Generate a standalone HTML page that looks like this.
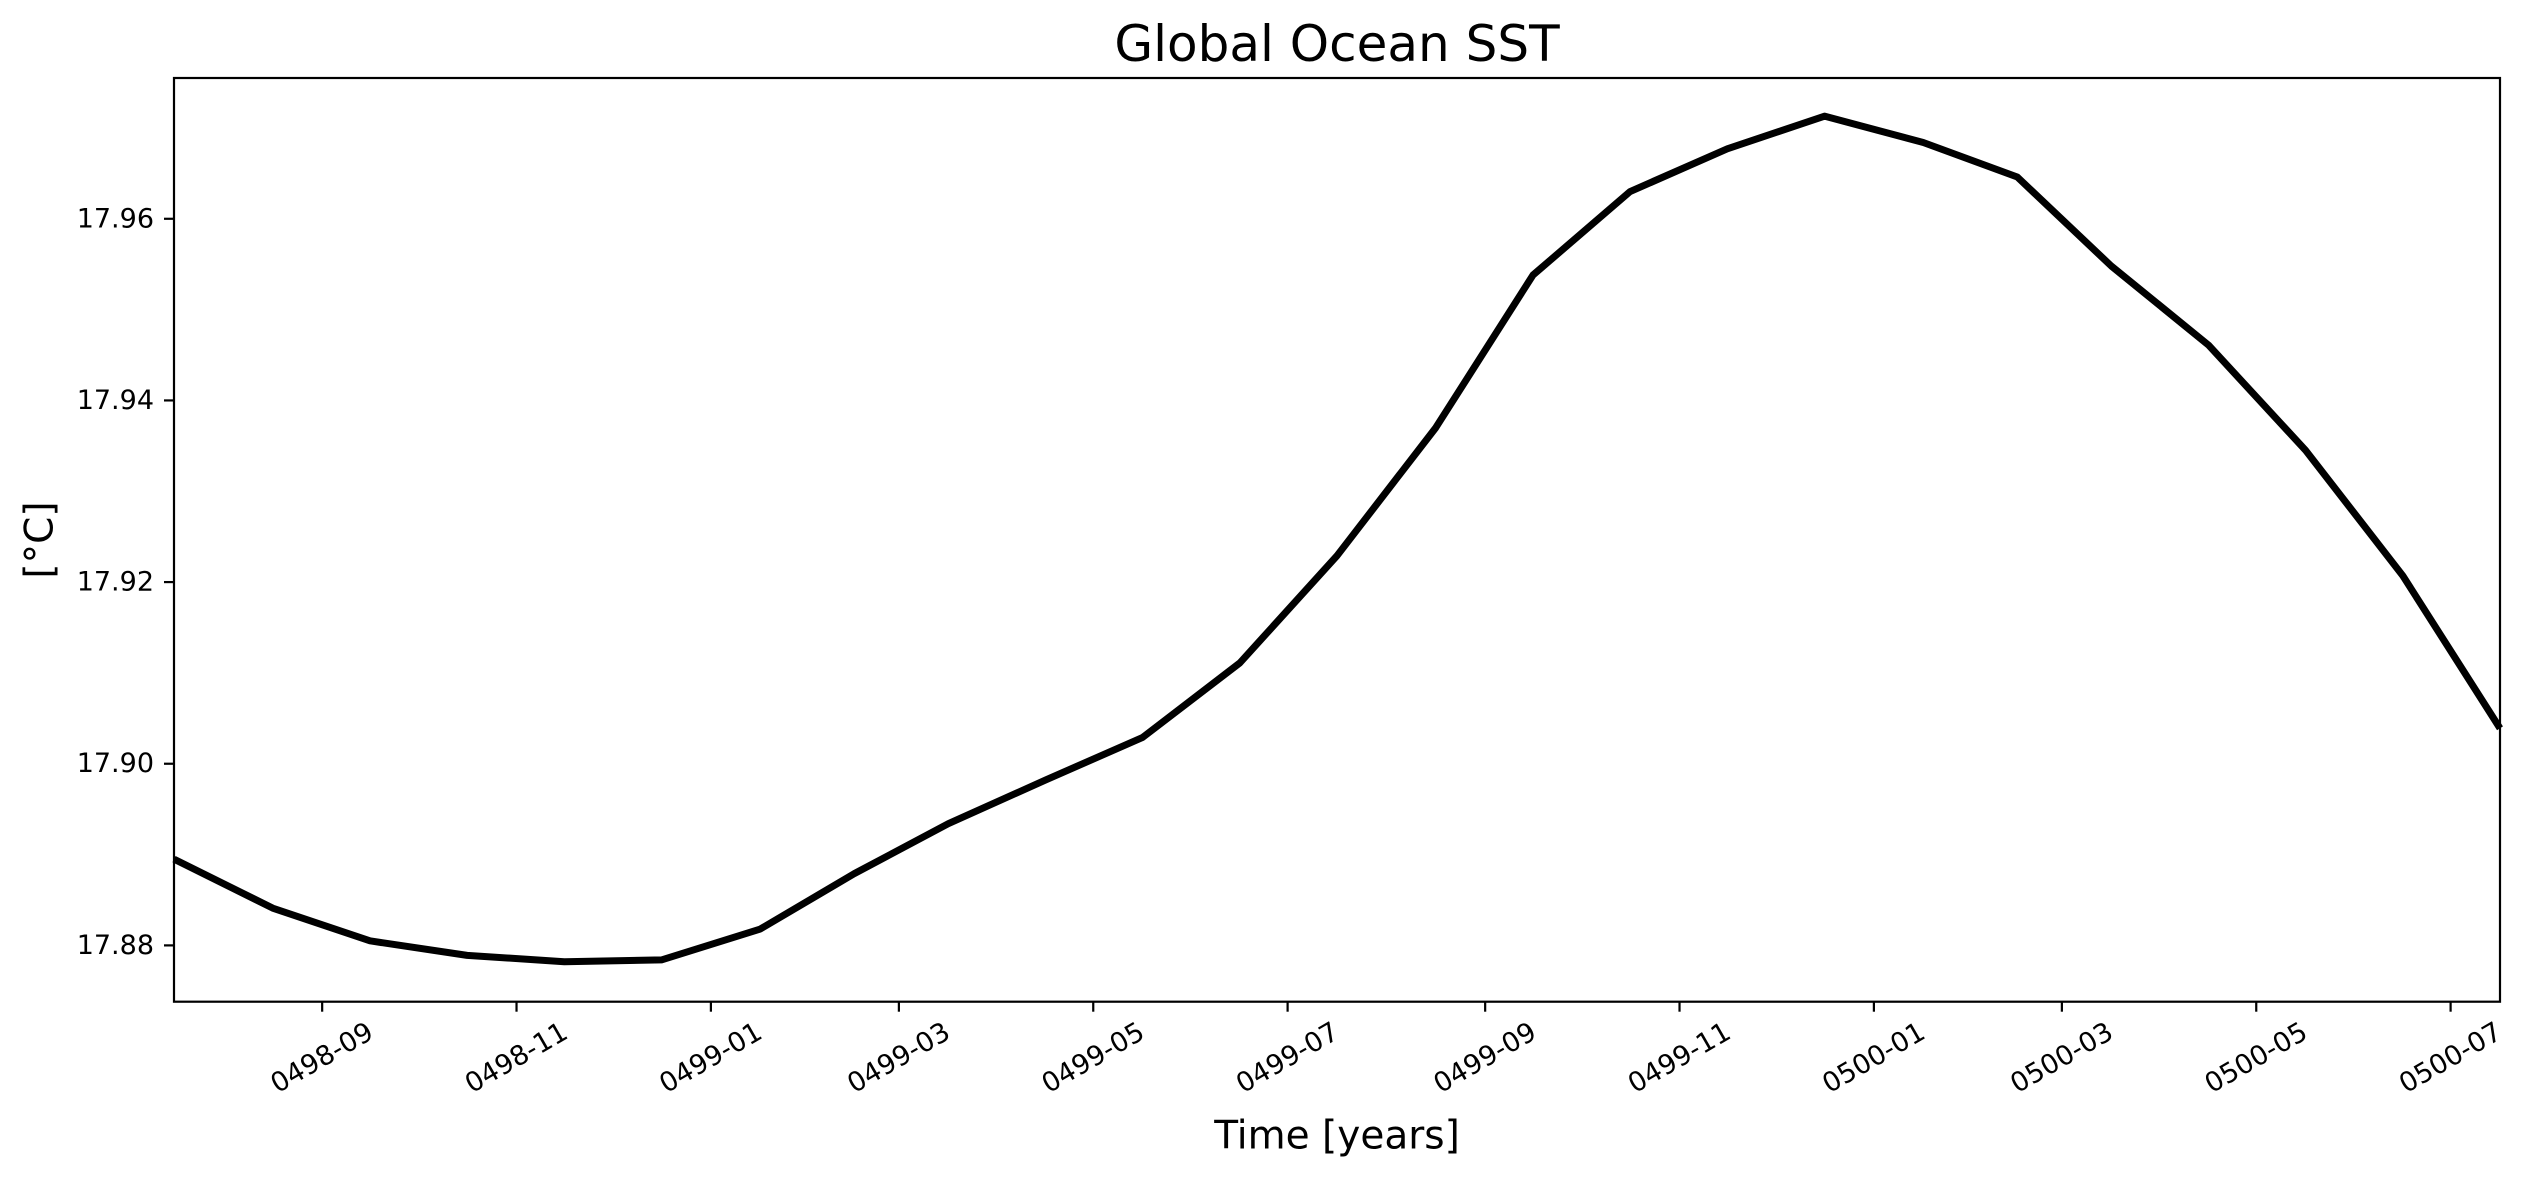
<!DOCTYPE html>
<html><head><meta charset="utf-8"><style>
html,body{margin:0;padding:0;background:#fff;}
svg{display:block;font-family:"DejaVu Sans","Liberation Sans",sans-serif;}
</style></head><body>
<svg id="chart" width="2526" height="1178" viewBox="0 0 2526 1178" xmlns="http://www.w3.org/2000/svg">
<rect width="2526" height="1178" fill="#fff"/>
<text x="1337" y="44" font-size="50" text-anchor="middle" dominant-baseline="central">Global Ocean SST</text>
<text x="1337" y="1136" font-size="39" text-anchor="middle" dominant-baseline="central">Time [years]</text>
<text x="40" y="540" font-size="39" text-anchor="middle" dominant-baseline="central" transform="rotate(-90 40 540)">[°C]</text>
<g id="ticks"></g>
<path id="line" fill="none" stroke="#000" stroke-width="7" stroke-linejoin="round"/>
<rect x="174" y="78" width="2326" height="923.7" fill="none" stroke="#000" stroke-width="2.2"/>
</svg>
<script>
// Data: monthly means, 0498-07 .. 0500-07 (mid-month)
const months = ["0498-07","0498-08","0498-09","0498-10","0498-11","0498-12",
"0499-01","0499-02","0499-03","0499-04","0499-05","0499-06","0499-07","0499-08","0499-09","0499-10","0499-11","0499-12",
"0500-01","0500-02","0500-03","0500-04","0500-05","0500-06","0500-07"];
const sst = [17.8895,17.8841,17.8805,17.8789,17.8782,17.8784,
17.8818,17.8879,17.8934,17.8982,17.9029,17.9111,17.9229,17.9370,17.9538,17.9630,17.9677,17.9713,
17.9684,17.9646,17.9548,17.9461,17.9345,17.9207,17.9039];
const yTicks = [17.88,17.90,17.92,17.94,17.96];
const xTickLabels = ["0498-09","0498-11","0499-01","0499-03","0499-05","0499-07","0499-09","0499-11","0500-01","0500-03","0500-05","0500-07"];

const ML=[31,28,31,30,31,30,31,31,30,31,30,31];
function monthStart(s){ // days since 0499-01-01, noleap
  const y=parseInt(s.slice(0,4)), m=parseInt(s.slice(5,7))-1;
  let d=(y-499)*365; for(let i=0;i<m;i++) d+=ML[i]; return d;
}
function midMonth(s){const m=parseInt(s.slice(5,7))-1; return monthStart(s)+ML[m]/2;}
const X0=174,X1=2500,Y0=78,Y1=1001.7;
const d0=midMonth(months[0]), d1=midMonth(months[months.length-1]);
const xScale=d=>X0+(d-d0)/(d1-d0)*(X1-X0);
const yMin=17.8738,yMax=17.9755;
const yScale=v=>Y1-(v-yMin)/(yMax-yMin)*(Y1-Y0);

const NS="http://www.w3.org/2000/svg";
const g=document.getElementById('ticks');
let dstr="";
months.forEach((m,i)=>{dstr+=(i?"L":"M")+xScale(midMonth(m)).toFixed(2)+" "+yScale(sst[i]).toFixed(2);});
document.getElementById('line').setAttribute('d',dstr);

yTicks.forEach(v=>{
  const y=yScale(v);
  const l=document.createElementNS(NS,'line');
  
  
  l.setAttribute('x1',164);l.setAttribute('x2',174);l.setAttribute('y1',y);l.setAttribute('y2',y);
  l.setAttribute('stroke','#000');l.setAttribute('stroke-width','2.2');g.appendChild(l);
  const t=document.createElementNS(NS,'text');
  
  
  t.setAttribute('x',154);t.setAttribute('y',y);t.setAttribute('font-size','27');
  t.setAttribute('text-anchor','end');t.setAttribute('dominant-baseline','central');
  t.textContent=v.toFixed(2);g.appendChild(t);
});
xTickLabels.forEach(s=>{
  const x=xScale(monthStart(s));
  const l=document.createElementNS(NS,'line');
  
  
  l.setAttribute('x1',x);l.setAttribute('x2',x);l.setAttribute('y1',1001.7);l.setAttribute('y2',1011.7);
  l.setAttribute('stroke','#000');l.setAttribute('stroke-width','2.2');g.appendChild(l);
  const t=document.createElementNS(NS,'text');
  
  
  t.setAttribute('x',x);t.setAttribute('y',1058);t.setAttribute('font-size','27');
  t.setAttribute('text-anchor','middle');t.setAttribute('dominant-baseline','central');
  t.setAttribute('transform','rotate(-30 '+x+' 1058)');
  t.textContent=s;g.appendChild(t);
});
</script>
</body></html>
